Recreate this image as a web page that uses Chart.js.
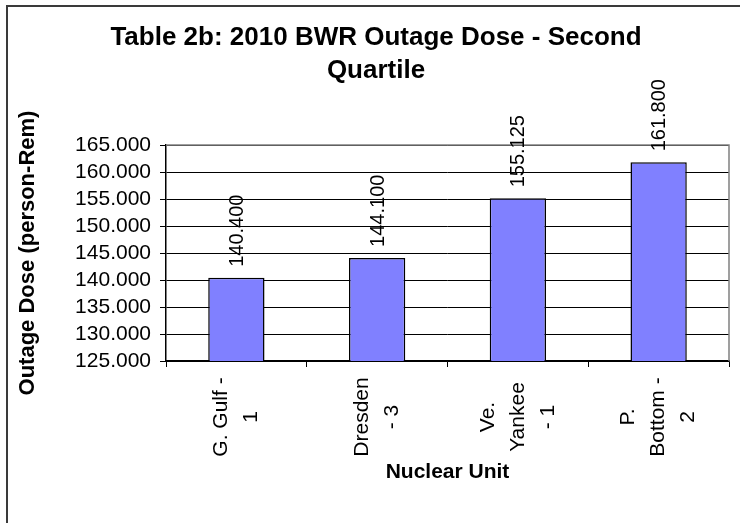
<!DOCTYPE html>
<html>
<head>
<meta charset="utf-8">
<title>Table 2b: 2010 BWR Outage Dose - Second Quartile</title>
<script src="https://cdn.jsdelivr.net/npm/chart.js@4.4.1/dist/chart.umd.min.js"></script>
<style>
  html, body { margin: 0; padding: 0; background: #fff; overflow: hidden; }
  #wrap { position: relative; width: 740px; height: 523px; }
  #frame { position: absolute; left: 6px; top: 5px; width: 800px; height: 600px; border: 2px solid #3a3a3a; box-sizing: border-box; pointer-events: none; }
</style>
</head>
<body>
<div id="wrap">
  <canvas id="doseChart" width="740" height="523"></canvas>
  <div id="frame"></div>
</div>
<script>
const titleLines = ['Table 2b: 2010 BWR Outage Dose - Second', 'Quartile'];
const categories = [['G. Gulf -', '1'], ['Dresden', '- 3'], ['Ve.', 'Yankee', '- 1'], ['P.', 'Bottom -', '2']];
const doseValues = [140.4, 144.1, 155.125, 161.8];
const yMin = 125;
const yMax = 165;
const yStep = 5;

const FONT = '"Liberation Sans", Arial, sans-serif';
Chart.defaults.font.family = FONT;
Chart.defaults.color = '#000';

// value labels written upward above each bar
const barLabels = {
  id: 'barLabels',
  afterDatasetsDraw(chart) {
    const ctx = chart.ctx;
    const meta = chart.getDatasetMeta(0);
    ctx.save();
    ctx.font = '20px ' + FONT;
    ctx.fillStyle = '#000';
    ctx.textAlign = 'left';
    ctx.textBaseline = 'middle';
    meta.data.forEach((bar, i) => {
      ctx.save();
      ctx.translate(bar.x + 1, bar.y - 11);
      ctx.rotate(-Math.PI / 2);
      ctx.fillText(doseValues[i].toFixed(3), 0, 0);
      ctx.restore();
    });
    ctx.restore();
  }
};

// category names, rotated, centred line by line like the original
const catLabels = {
  id: 'catLabels',
  afterDraw(chart) {
    const ctx = chart.ctx;
    const xs = chart.scales.x;
    const lh = 30;
    ctx.save();
    ctx.font = '21px ' + FONT;
    ctx.fillStyle = '#000';
    ctx.textAlign = 'center';
    ctx.textBaseline = 'middle';
    categories.forEach((lines, i) => {
      const px = xs.getPixelForTick(i);
      lines.forEach((line, j) => {
        ctx.save();
        ctx.translate(px + (j - (lines.length - 1) / 2) * lh, xs.top + 56);
        ctx.rotate(-Math.PI / 2);
        ctx.fillText(line, 0, 0);
        ctx.restore();
      });
    });
    ctx.restore();
  }
};

// grey top/right edge of the plot area
const plotEdge = {
  id: 'plotEdge',
  beforeDatasetsDraw(chart) {
    const { ctx, chartArea: a } = chart;
    ctx.save();
    ctx.strokeStyle = '#808080';
    ctx.lineWidth = 1.5;
    ctx.beginPath();
    ctx.moveTo(a.left, a.top);
    ctx.lineTo(a.right, a.top);
    ctx.lineTo(a.right, a.bottom);
    ctx.stroke();
    ctx.restore();
  }
};

const ctx = document.getElementById('doseChart').getContext('2d');
new Chart(ctx, {
  type: 'bar',
  data: {
    labels: categories,
    datasets: [{
      label: 'Outage Dose',
      data: doseValues,
      backgroundColor: '#8080ff',
      borderColor: '#000',
      borderWidth: 1.5,
      borderSkipped: false,
      barPercentage: 0.4,
      categoryPercentage: 1
    }]
  },
  options: {
    responsive: false,
    animation: false,
    layout: { padding: { left: 23, right: 11, top: 21, bottom: 0 } },
    plugins: {
      legend: { display: false },
      tooltip: { enabled: false },
      title: {
        display: true,
        text: titleLines,
        color: '#000',
        font: { size: 26, weight: 'bold', lineHeight: 1.27 },
        padding: { top: 0, bottom: 58 }
      }
    },
    scales: {
      x: {
        ticks: { display: false },
        grid: { display: true, drawOnChartArea: false, color: '#000', tickLength: 6, offset: true },
        border: { color: '#000', width: 1.5 },
        title: {
          display: true,
          text: 'Nuclear Unit',
          color: '#000',
          font: { size: 21, weight: 'bold' },
          padding: { top: 0, bottom: 38 }
        },
        afterFit(scale) { scale.height = 162; }
      },
      y: {
        min: yMin,
        max: yMax,
        ticks: {
          stepSize: yStep,
          autoSkip: false,
          padding: 9,
          color: '#000',
          font: { size: 21 },
          callback: (v) => Number(v).toFixed(3)
        },
        grid: { color: '#000', lineWidth: 1, tickLength: 6 },
        border: { color: '#000', width: 1.5 },
        title: {
          display: true,
          text: 'Outage Dose (person-Rem)',
          color: '#000',
          font: { size: 22, weight: 'bold' },
          padding: { top: -8, bottom: 0 }
        },
        afterFit(scale) { scale.width = 143; }
      }
    }
  },
  plugins: [plotEdge, barLabels, catLabels]
});
</script>
</body>
</html>
